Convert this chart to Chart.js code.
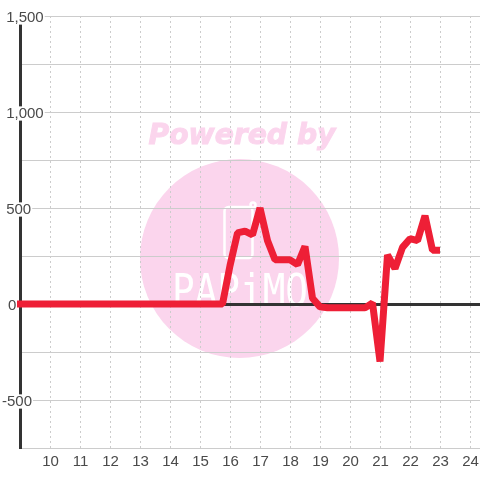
<!DOCTYPE html>
<html>
<head>
<meta charset="utf-8">
<title>Chart</title>
<style>
  html, body { margin: 0; padding: 0; background: #fff; }
  canvas { display: block; }
</style>
<script src="https://cdn.jsdelivr.net/npm/chart.js@4"></script>
</head>
<body>
<canvas id="power-chart" width="480" height="480"></canvas>
<script>
const hours = [
    8.75,
    9, 9.25, 9.5, 9.75, 10, 10.25, 10.5, 10.75,
    11, 11.25, 11.5, 11.75, 12, 12.25, 12.5, 12.75,
    13, 13.25, 13.5, 13.75, 14, 14.25, 14.5, 14.75,
    15, 15.25, 15.5, 15.75, 16, 16.25, 16.5, 16.75,
    17, 17.25, 17.5, 17.75, 18, 18.25, 18.5, 18.75,
    19, 19.25, 19.5, 19.75, 20, 20.25, 20.5, 20.75,
    21, 21.25, 21.5, 21.75, 22, 22.25, 22.5, 22.75,
    23
];
const power = [
    0,
    0, 0, 0, 0, 0, 0, 0, 0,
    0, 0, 0, 0, 0, 0, 0, 0,
    0, 0, 0, 0, 0, 0, 0, 0,
    0, 0, 0, 0, 200, 370, 380, 360,
    500, 330, 230, 230, 230, 205, 300, 30,
    -15, -20, -20, -20, -20, -20, -20, 5,
    -300, 255, 185, 295, 340, 330, 460, 280,
    280
];
const xTickLabels = ['10', '11', '12', '13', '14', '15', '16', '17', '18', '19', '20', '21', '22', '23', '24'];
const yTickValues = [-500, 0, 500, 1000, 1500];
// leading spaces nudge the labels, the axis keeps them left aligned
const yTickLabels = ['-500', '\u2009\u20090', ' 500', ' 1,000', ' 1,500'];

const watermark = {
    id: 'watermark',
    beforeDraw: function(chart) {
        const ctx = chart.ctx;
        ctx.save();
        ctx.fillStyle = '#fff';
        ctx.fillRect(0, 0, chart.width, chart.height);

        ctx.fillStyle = '#fbd5ed';
        ctx.beginPath();
        ctx.arc(239.5, 258.5, 99.5, 0, Math.PI * 2);
        ctx.fill();

        ctx.font = 'italic bold 29px "DejaVu Sans"';
        ctx.textAlign = 'center';
        ctx.textBaseline = 'alphabetic';
        ctx.strokeStyle = '#fbd5ed';
        ctx.lineWidth = 1;
        ctx.fillText('Powered by', 242, 144, 187);
        ctx.strokeText('Powered by', 242, 144, 187);

        ctx.strokeStyle = '#fff';
        ctx.lineWidth = 2.5;
        ctx.beginPath();
        ctx.roundRect(224.5, 207, 28, 51, 4);
        ctx.stroke();
        ctx.beginPath();
        ctx.arc(253, 205, 2.5, 0, Math.PI * 2);
        ctx.stroke();

        ctx.fillStyle = '#fff';
        ctx.font = '45px "DejaVu Sans Mono"';
        ctx.fillText('PAPiMO', 240, 306, 136);
        ctx.restore();
    }
};

const config = {
    type: 'line',
    data: {
        datasets: [{
            label: 'Power',
            data: hours.map(function(h, i) { return { x: h, y: power[i] }; }),
            borderColor: '#ee1f36',
            backgroundColor: '#ee1f36',
            borderWidth: 7,
            borderCapStyle: 'butt',
            borderJoinStyle: 'bevel',
            pointRadius: 0,
            tension: 0,
            clip: 3
        }]
    },
    options: {
        responsive: false,
        animation: false,
        layout: { padding: { top: 16, left: 0, right: 0, bottom: 0 } },
        plugins: {
            legend: { display: false },
            title: { display: false },
            tooltip: { enabled: false }
        },
        scales: {
            x: {
                type: 'linear',
                min: 9,
                max: 24.3333,
                afterFit: function(scale) {
                    scale.height = 32;
                    scale.paddingLeft = 0;
                    scale.paddingRight = 0;
                },
                grid: {
                    color: '#cccccc',
                    lineWidth: 1,
                    drawTicks: false
                },
                border: { color: '#cccccc', width: 1, dash: [2, 3] },
                ticks: {
                    stepSize: 1,
                    includeBounds: false,
                    maxRotation: 0,
                    autoSkip: false,
                    padding: 5,
                    labelOffset: 0.5,
                    color: '#4a4a4a',
                    font: { family: '"Liberation Sans"', size: 15 },
                    callback: function(value) {
                        const i = value - 10;
                        return i >= 0 ? xTickLabels[i] : '';
                    }
                }
            },
            y: {
                min: -750,
                max: 1500,
                afterFit: function(scale) {
                    scale.width = 20;
                    scale.paddingTop = 0;
                    scale.paddingBottom = 0;
                },
                grid: {
                    color: function(c) { return c.tick.value === 0 ? '#333333' : '#cccccc'; },
                    lineWidth: function(c) { return c.tick.value === 0 ? 3 : 1; },
                    drawTicks: false
                },
                border: { color: '#333333', width: 3 },
                ticks: {
                    stepSize: 250,
                    mirror: true,
                    padding: -18,
                    labelOffset: 1.5,
                    autoSkip: false,
                    color: '#4a4a4a',
                    font: { family: '"Liberation Sans"', size: 15, lineHeight: 0.95 },
                    showLabelBackdrop: function(c) { return yTickValues.includes(c.tick.value); },
                    backdropColor: '#ffffff',
                    backdropPadding: { x: 1, y: 0 },
                    callback: function(value) {
                        const i = yTickValues.indexOf(value);
                        return i >= 0 ? yTickLabels[i] : '';
                    }
                }
            }
        }
    },
    plugins: [watermark]
};

const powerChart = new Chart(document.getElementById('power-chart'), config);
</script>
</body>
</html>
